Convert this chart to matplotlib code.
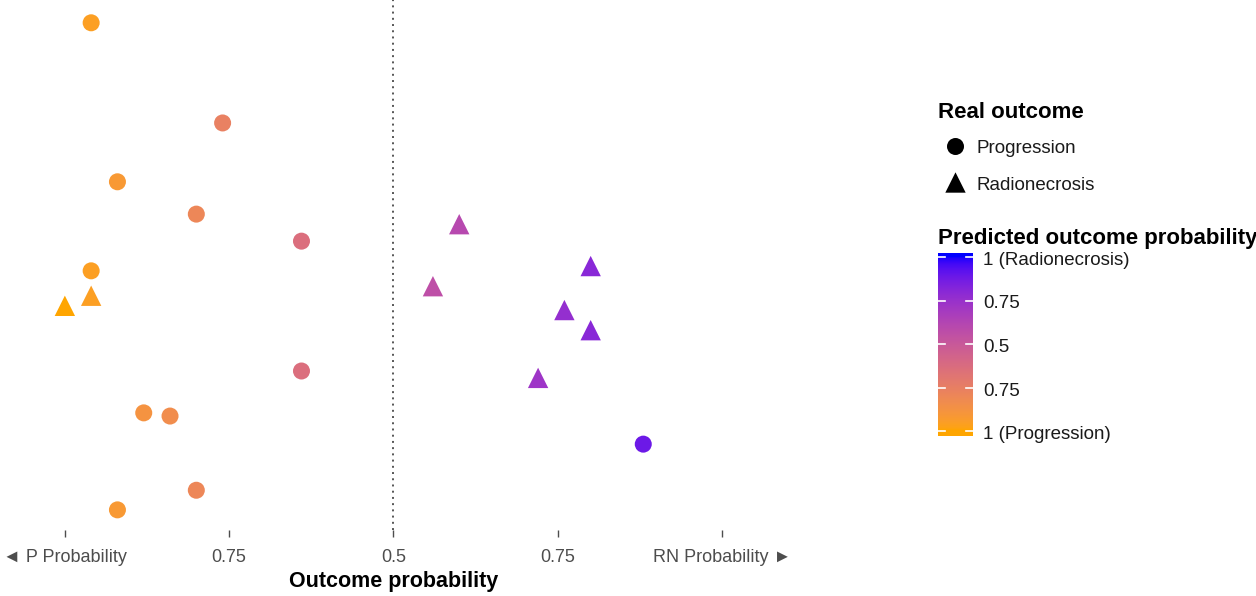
import numpy as np
import matplotlib
matplotlib.use("Agg")
import matplotlib.pyplot as plt
from matplotlib.colors import ListedColormap, Normalize

# ---------------- data ----------------
rn_probability = [0.04, 0.24, 0.08, 0.20, 0.36, 0.60, 0.80, 0.04, 0.04, 0.00,
                  0.56, 0.76, 0.80, 0.36, 0.72, 0.12, 0.16, 0.88, 0.20, 0.08]
y_jitter = [0.957, 0.768, 0.657, 0.596, 0.545, 0.577, 0.498, 0.489, 0.442, 0.423,
            0.460, 0.415, 0.377, 0.300, 0.287, 0.221, 0.215, 0.162, 0.075, 0.038]
real_outcome = ["Progression", "Progression", "Progression", "Progression", "Progression",
                "Radionecrosis", "Radionecrosis", "Progression", "Radionecrosis", "Radionecrosis",
                "Radionecrosis", "Radionecrosis", "Radionecrosis", "Progression", "Radionecrosis",
                "Progression", "Progression", "Progression", "Progression", "Progression"]
x_ticks = [0, 0.25, 0.5, 0.75, 1]
x_tick_labels = ["\u25c4 P Probability", "0.75", "0.5", "0.75", "RN Probability \u25ba"]
cbar_ticks = [1, 0.75, 0.5, 0.25, 0]
cbar_labels = ["1 (Radionecrosis)", "0.75", "0.5", "0.75", "1 (Progression)"]
outcome_levels = ["Progression", "Radionecrosis"]
low_color = "#FFA500"
high_color = "#0000FF"

# ---------------- colour scale (Lab interpolation, like ggplot) ----------------
def srgb_to_lab(rgb):
    rgb = np.asarray(rgb, float)
    lin = np.where(rgb <= 0.04045, rgb / 12.92, ((rgb + 0.055) / 1.055) ** 2.4)
    M = np.array([[0.4124564, 0.3575761, 0.1804375],
                  [0.2126729, 0.7151522, 0.0721750],
                  [0.0193339, 0.1191920, 0.9503041]])
    xyz = M @ lin
    wp = np.array([0.95047, 1.0, 1.08883])
    t = xyz / wp
    f = np.where(t > (6/29) ** 3, np.cbrt(t), t / (3 * (6/29) ** 2) + 4/29)
    return np.array([116 * f[1] - 16, 500 * (f[0] - f[1]), 200 * (f[1] - f[2])])

def lab_to_srgb(lab):
    L, a, b = lab
    fy_ = (L + 16) / 116
    fx_ = fy_ + a / 500
    fz_ = fy_ - b / 200
    def finv(f):
        return np.where(f > 6/29, f ** 3, 3 * (6/29) ** 2 * (f - 4/29))
    wp = np.array([0.95047, 1.0, 1.08883])
    xyz = np.array([finv(fx_), finv(fy_), finv(fz_)]) * wp
    Minv = np.array([[3.2404542, -1.5371385, -0.4985314],
                     [-0.9692660, 1.8760108, 0.0415560],
                     [0.0556434, -0.2040259, 1.0572252]])
    lin = np.clip(Minv @ xyz, 0, 1)
    srgb = np.where(lin <= 0.0031308, 12.92 * lin, 1.055 * lin ** (1/2.4) - 0.055)
    return np.clip(srgb, 0, 1)

lab_lo = srgb_to_lab(matplotlib.colors.to_rgb(low_color))
lab_hi = srgb_to_lab(matplotlib.colors.to_rgb(high_color))
steps = np.linspace(0, 1, 256)
cmap = ListedColormap([lab_to_srgb(lab_lo + s * (lab_hi - lab_lo)) for s in steps])
norm = Normalize(0, 1)

# ---------------- figure ----------------
plt.rcParams['font.family'] = ['Liberation Sans', 'DejaVu Sans']
W, H = 1256, 596
fig = plt.figure(figsize=(W / 100, H / 100), dpi=100)

def fx(px):
    return px / W

def fy(py):
    return 1 - py / H

ax = fig.add_axes([fx(32), fy(530), fx(755) - fx(32), fy(0) - fy(530)])
ax.set_xlim(-0.05, 1.05)
ax.set_ylim(0, 1)

x = np.array(rn_probability)
y = np.array(y_jitter)
shape = np.array(real_outcome)
markers = {"Progression": ("o", 150), "Radionecrosis": ("^", 215)}
for lvl in outcome_levels:
    m = shape == lvl
    mk, s = markers[lvl]
    ax.scatter(x[m], y[m], c=x[m], cmap=cmap, norm=norm, marker=mk, s=s,
               linewidths=0, zorder=3)

ax.axvline(0.5, color="#555555", lw=1.4, linestyle=(0, (1, 2.2)), zorder=1)

for sp in ax.spines.values():
    sp.set_visible(False)
ax.set_yticks([])
ax.set_xticks(x_ticks)
ax.set_xticklabels(x_tick_labels, fontsize=13, color="#4D4D4D")
ax.tick_params(axis="x", length=5, width=1, color="#4D4D4D", pad=9)

# axis title
fig.text(fx(393.5), fy(587), "Outcome probability", fontsize=15.5, fontweight="bold",
         ha="center", va="baseline")

# ---------------- shape legend ----------------
fig.text(fx(938), fy(118), "Real outcome", fontsize=16, fontweight="bold",
         ha="left", va="baseline")
leg_ax = fig.add_axes([0, 0, 1, 1], facecolor="none")
leg_ax.set_xlim(0, W)
leg_ax.set_ylim(H, 0)
leg_ax.axis("off")
leg_rows = [146, 182]
leg_baselines = [153, 190]
for lvl, py, pb in zip(outcome_levels, leg_rows, leg_baselines):
    mk, s = markers[lvl]
    leg_ax.scatter([955], [py], marker=mk, s=s, color="black", linewidths=0)
    fig.text(fx(977), fy(pb), lvl, fontsize=13.5, ha="left", va="baseline", color="#1A1A1A")

# ---------------- colour bar ----------------
fig.text(fx(938), fy(244), "Predicted outcome probability", fontsize=16,
         fontweight="bold", ha="left", va="baseline")
lo, hi = -5 / 174, 1 + 4 / 174
cax = fig.add_axes([fx(938), fy(436), fx(973) - fx(938), fy(253) - fy(436)])
grad = np.linspace(lo, hi, 300).reshape(-1, 1)
cax.imshow(grad, cmap=cmap, norm=norm, aspect="auto", origin="lower",
           extent=[0, 1, lo, hi])
cax.set_xlim(0, 1)
cax.set_ylim(lo, hi)
cax.axis("off")
for t, lab in zip(cbar_ticks, cbar_labels):
    cax.plot([0, 0.2], [t, t], color="white", lw=1.2)
    cax.plot([0.8, 1], [t, t], color="white", lw=1.2)
    py = 431 - t * 174 + 8
    fig.text(fx(983), fy(py), lab, fontsize=13.5, ha="left", va="baseline", color="#1A1A1A")

fig.savefig("out.png", dpi=100)
